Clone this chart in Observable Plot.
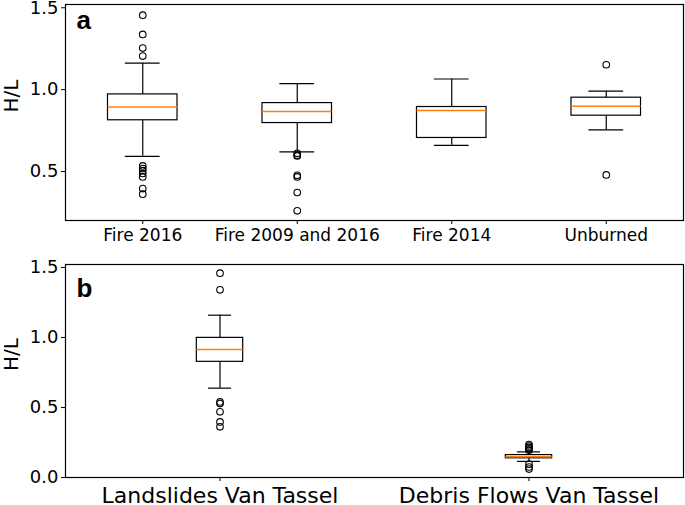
<!DOCTYPE html>
<html>
<head>
<meta charset="utf-8">
<script src="https://cdn.jsdelivr.net/npm/d3@7"></script>
<script src="https://cdn.jsdelivr.net/npm/@observablehq/plot@0.6"></script>
<style>
  body { margin: 0; background: white; }
  #chart svg { display: block; overflow: visible; }
</style>
</head>
<body>
<div id="chart"></div>
<script>
// Panel a data
const groupsA = ["Fire 2016", "Fire 2009 and 2016", "Fire 2014", "Unburned"];
const q1A  = [0.813, 0.796, 0.705, 0.841];
const medA = [0.894, 0.866, 0.872, 0.898];
const q3A  = [0.971, 0.918, 0.894, 0.951];
const loA  = [0.593, 0.620, 0.660, 0.754];
const hiA  = [1.162, 1.037, 1.065, 0.991];
const outA = [
  [1.455, 1.337, 1.254, 1.205, 0.534, 0.518, 0.505, 0.488, 0.467, 0.396, 0.362],
  [0.611, 0.600, 0.595, 0.477, 0.467, 0.372, 0.260],
  [],
  [1.152, 0.479]
];
const yTicksA = [0.5, 1.0, 1.5];

// Panel b data
const groupsB = ["Landslides Van Tassel", "Debris Flows Van Tassel"];
const q1B  = [0.826, 0.137];
const medB = [0.914, 0.148];
const q3B  = [0.997, 0.160];
const loB  = [0.638, 0.115];
const hiB  = [1.159, 0.183];
const outB = [
  [1.459, 1.340, 0.540, 0.528, 0.469, 0.397, 0.362],
  [0.195, 0.205, 0.215, 0.225, 0.235, 0.095, 0.075, 0.060]
];
const yTicksB = [0.0, 0.5, 1.0, 1.5];

function panel(o) {
  const rows = o.groups.map((g, i) => ({pos: i + 1, q1: o.q1[i], med: o.med[i], q3: o.q3[i], lo: o.lo[i], hi: o.hi[i]}));
  const pts = o.groups.flatMap((g, i) => o.out[i].map(v => ({pos: i + 1, v})));
  const bw = o.boxW;
  return Plot.plot({
    width: 685, height: o.height,
    marginLeft: 65, marginRight: 2, marginTop: o.marginTop, marginBottom: o.marginBottom,
    style: {fontFamily: "DejaVu Sans, sans-serif", color: "#000", background: "white", overflow: "visible"},
    x: {domain: [0.5, o.groups.length + 0.5]},
    y: {domain: o.yDomain},
    marks: [
      Plot.ruleX(rows, {x: "pos", y1: "lo", y2: "q1", stroke: "#000", strokeWidth: 1.2}),
      Plot.ruleX(rows, {x: "pos", y1: "q3", y2: "hi", stroke: "#000", strokeWidth: 1.2}),
      Plot.ruleY(rows, {y: "lo", x1: d => d.pos - bw / 4, x2: d => d.pos + bw / 4, stroke: "#000", strokeWidth: 1.2}),
      Plot.ruleY(rows, {y: "hi", x1: d => d.pos - bw / 4, x2: d => d.pos + bw / 4, stroke: "#000", strokeWidth: 1.2}),
      Plot.rect(rows, {x1: d => d.pos - bw / 2, x2: d => d.pos + bw / 2, y1: "q1", y2: "q3", fill: "white", stroke: "#000", strokeWidth: 1.2}),
      Plot.ruleY(rows, {y: "med", x1: d => d.pos - bw / 2, x2: d => d.pos + bw / 2, stroke: "#ff7f0e", strokeWidth: 1.5}),
      Plot.dot(pts, {x: "pos", y: "v", r: 3.3, stroke: "#000", fill: "none", strokeWidth: 1.1}),
      Plot.frame({stroke: "#000", strokeWidth: 1.2}),
      Plot.axisX({ticks: rows.map(d => d.pos), tickFormat: p => o.groups[p - 1], fontSize: o.xFont, tickSize: 4, tickPadding: o.xPad, label: null}),
      Plot.axisY({ticks: o.yTicks, tickFormat: d3.format(".1f"), fontSize: 18, tickSize: 4, tickPadding: 3, label: null}),
      Plot.text([o.letter], {text: d => d, frameAnchor: "top-left", dx: 11, dy: o.letterDy, textAnchor: "start", lineAnchor: "bottom", fontSize: 26, fontWeight: "bold", fontFamily: "Liberation Sans, Arial, sans-serif"}),
      Plot.text(["H/L"], {text: d => d, frameAnchor: "left", dx: -54, rotate: -90, fontSize: 20})
    ]
  });
}

const chart = document.getElementById("chart");
chart.append(panel({
  groups: groupsA, q1: q1A, med: medA, q3: q3A, lo: loA, hi: hiA, out: outA,
  yDomain: [0.201, 1.52], yTicks: yTicksA, height: 253, marginTop: 4, marginBottom: 33,
  boxW: 0.45, xFont: 17, xPad: 4, letter: "a", letterDy: 24
}));
chart.append(panel({
  groups: groupsB, q1: q1B, med: medB, q3: q3B, lo: loB, hi: hiB, out: outB,
  yDomain: [0, 1.521], yTicks: yTicksB, height: 252, marginTop: 11, marginBottom: 28,
  boxW: 0.15, xFont: 22, xPad: 6, letter: "b", letterDy: 32
}));
</script>
</body>
</html>
